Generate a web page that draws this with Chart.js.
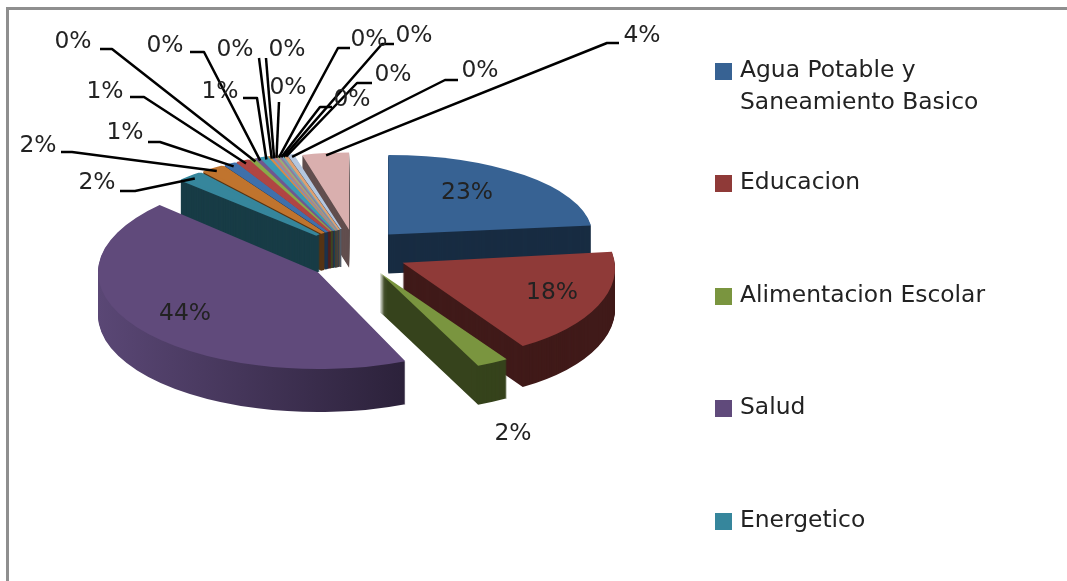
<!DOCTYPE html>
<html><head><meta charset="utf-8">
<style>html,body{margin:0;padding:0;background:#fff}canvas{display:block}</style>
<script src="https://cdn.jsdelivr.net/npm/chart.js@4"></script></head>
<body><canvas id="c" width="1067" height="581"></canvas>
<script>
// --- data ---
const categories = ["Agua Potable y Saneamiento Basico","Educacion","Alimentacion Escolar","Salud","Energetico",
  "Cat 6","Cat 7","Cat 8","Cat 9","Cat 10","Cat 11","Cat 12","Cat 13","Cat 14","Cat 15","Cat 16","Cat 17","Cat 18","Cat 19","Cat 20"];
const values = [23.2,18.1,2.2,43.7,2.0,1.8,0.9,1.0,0.4,0.3,0.6,0.17,0.17,0.17,0.17,0.17,0.17,0.17,0.4,4.2];
const colors = ["#376293","#8f3a38","#7a953f","#604a7b","#36869c","#c0742e","#3f70ab","#b04543","#8aa84a","#70568f","#3a9bb5","#d98a45",
  "#7d93b8","#bd7f7d","#9aae76","#8b7aa3","#72a6b5","#e0a070","#b4c7e0","#d9afae"];
// --- legend ---
const legendLines = [["Agua Potable y","Saneamiento Basico"],["Educacion"],["Alimentacion Escolar"],["Salud"],["Energetico"]];
const legendRows = [71,183,296,408,521];
// --- 3D look per slice ---
const explode = [50,53,54,45,55,55,55,55,55,55,55,55,55,55,55,55,55,55,52,45];
const squash  = [.39,.46,.43,.44,.42,.42,.42,.42,.42,.42,.42,.42,.42,.42,.42,.42,.42,.42,.42,.43];
const scaleR  = [1.02,1.06,1.18,1.1,.94,.94,.94,.94,.94,.94,.94,.94,.94,.94,.94,.94,.94,.94,.92,.9];
const shiftY  = [-3,0,0,9,0,0,0,0,0,0,0,0,0,0,0,0,0,0,-2,-3];
const shear   = [0,.12,.05,0,0,0,0,0,0,0,0,0,0,0,0,0,0,0,0,0];
const depth   = [39,41,39,43,37,37,37,37,37,37,37,37,37,37,37,37,37,37,38,38];
const seam    = [0,0,0,0,5,5,4,4,3,3,3,2,2,2,2,2,2,2,2,0];
// --- label layout: text centre, then optional leader bend and stub end ---
const labelText = [[467,193],[552,293],[513,434],[185,314],[97,183],[38,146],[125,133],[105,92],[73,42],[165,46],[220,92],
  [235,50],[287,50],[288,88],[369,40],[352,100],[414,36],[393,75],[480,71],[642,36]];
const leaderBend = [null,null,null,null,[135,191],[72,152],[160,142],[144,97],[112,49],[204,52],[257,98],
  [259,58],[266,58],[279,102],[338,48],[320,107],[382,44],[357,83],[445,80],[607,43]];
const leaderEnd = [null,null,null,null,[120,191],[61,152],[148,142],[130,97],[100,49],[190,52],[243,98],
  null,null,null,[350,48],[332,107],[394,44],[372,83],[458,80],[619,43]];

const FONT = '23.4px "DejaVu Sans"';
const TEXT = '#222';
function darker(hex,f){const n=parseInt(hex.slice(1),16);
  return `rgb(${(n>>16&255)*f|0},${(n>>8&255)*f|0},${(n&255)*f|0})`;}
function place(ctx,arc,i,extra){
  const h=(arc.startAngle+arc.endAngle)/2;
  const ax=arc.x+explode[i]*Math.cos(h), ay=arc.y+explode[i]*Math.sin(h)*squash[i]+shiftY[i];
  ctx.translate(ax,ay+extra);
  ctx.transform(1,0,shear[i],1,0,0);
  ctx.scale(scaleR[i],squash[i]*scaleR[i]);
  ctx.translate(-arc.x,-arc.y);
}
const pie3d={id:'pie3d',
  beforeDatasetsDraw(chart){
    const ctx=chart.ctx, arcs=chart.getDatasetMeta(0).data;
    const order=arcs.map((a,i)=>i).sort((p,q)=>{
      const m=a=>Math.sin((a.startAngle+a.endAngle)/2); return m(arcs[p])-m(arcs[q]);});
    order.forEach(i=>{
      const arc=arcs[i], o=arc.options;
      let fill=darker(colors[i],.45);
      if(i===3){const g=ctx.createLinearGradient(arc.x-200,0,arc.x+90,0);
        g.addColorStop(0,'#5a4775');g.addColorStop(1,'#2a2038');fill=g;}
      arc.options=Object.assign({},o,{backgroundColor:fill,borderColor:fill});
      for(let d=depth[i];d>=1;d--){ctx.save();place(ctx,arc,i,d);arc.draw(ctx);ctx.restore();}
      arc.options=o;
    });
    arcs.forEach((arc,i)=>{ctx.save();place(ctx,arc,i,0);arc.draw(ctx);ctx.restore();});
    return false;
  },
  afterDraw(chart){
    const ctx=chart.ctx, arcs=chart.getDatasetMeta(0).data, total=values.reduce((a,b)=>a+b,0);
    // frame
    ctx.save();ctx.strokeStyle='#8f8f8f';ctx.lineWidth=3;ctx.beginPath();
    ctx.moveTo(7.5,581);ctx.lineTo(7.5,8.5);ctx.lineTo(1067,8.5);ctx.stroke();
    // leaders
    ctx.strokeStyle='#000';ctx.lineWidth=2.5;ctx.lineJoin='round';
    arcs.forEach((arc,i)=>{
      if(!leaderBend[i])return;
      const h=(arc.startAngle+arc.endAngle)/2, r=arc.outerRadius*scaleR[i]*.97;
      const sx=arc.x+explode[i]*Math.cos(h)+r*Math.cos(h);
      const sy=arc.y+explode[i]*Math.sin(h)*squash[i]+shiftY[i]+r*Math.sin(h)*squash[i];
      ctx.beginPath();ctx.moveTo(sx,sy);ctx.lineTo(leaderBend[i][0],leaderBend[i][1]);
      if(leaderEnd[i])ctx.lineTo(leaderEnd[i][0],leaderEnd[i][1]);
      ctx.stroke();
    });
    // percent labels
    ctx.font=FONT;ctx.fillStyle=TEXT;ctx.textAlign='center';ctx.textBaseline='middle';
    values.forEach((v,i)=>ctx.fillText(Math.round(v/total*100)+'%',labelText[i][0],labelText[i][1]));
    // legend
    ctx.textAlign='left';
    legendLines.forEach((lines,i)=>{
      const y=legendRows[i];
      ctx.fillStyle=colors[i];ctx.fillRect(715,y-8,17,17);
      ctx.fillStyle=TEXT;
      lines.forEach((t,j)=>ctx.fillText(t,740,y+j*32));
    });
    ctx.restore();
  }};
new Chart(document.getElementById('c'),{
  type:'pie',
  data:{labels:categories,datasets:[{data:values,backgroundColor:colors,borderColor:colors,borderWidth:seam}]},
  options:{responsive:false,animation:false,radius:200,
    layout:{padding:{left:0,top:0,right:357,bottom:77}},
    plugins:{legend:{display:false},tooltip:{enabled:false}}},
  plugins:[pie3d]
});
</script></body></html>
